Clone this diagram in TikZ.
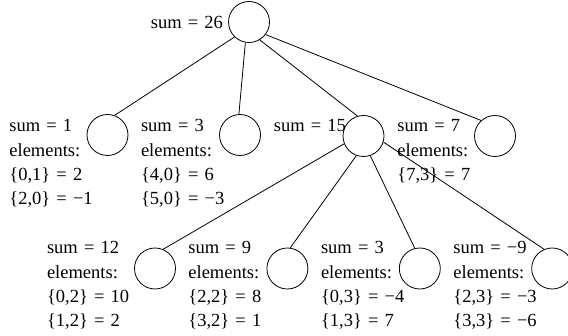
\documentclass[tikz,border=0pt]{standalone}
\usepackage{fontspec}
\setmainfont{Liberation Serif}
\begin{document}
\begin{tikzpicture}[x=1pt, y=-1pt, node distance=132.4pt, line width=0.8pt]
	\tikzstyle{sum} = [circle, draw, minimum size=41pt, inner sep=0pt]
	\tikzstyle{info} = [anchor=base west, inner sep=0pt, text width=100pt, align=left, font=\fontsize{18.5}{24.2}\selectfont]

	\useasboundingbox (0,0) rectangle (568,336);

	% Define nodes
	\node[sum] (R) at (249,22) {};
	\node[sum] (A) at (107.5,135) {};
	\node[sum] (B) at (240,135) {};
	\node[sum] (C) at (363.5,136) {};
	\node[sum] (D) at (495,136) {};
	\node[sum] (E) at (155,268.5) {};
	\node[sum] (F) [right of=E] {};
	\node[sum] (G) [right of=F] {};
	\node[sum] (H) [right of=G] {};

	% Sums and elements
	\node[info] (tR) at (150.5,28.5) {sum = 26};
	\node[info] (tA) at (9,132) {sum = 1\\elements:\\\{0,1\} = 2\\\{2,0\} = −1};
	\node[info] (tB) at (140.6,132) {sum = 3\\elements:\\\{4,0\} = 6\\\{5,0\} = −3};
	\node[info] (tC) at (273.5,132) {sum = 15};
	\node[info] (tD) at (397,132) {sum = 7\\elements:\\\{7,3\} = 7};
	\node[info] (tE) at (46.6,254) {sum = 12\\elements:\\\{0,2\} = 10\\\{1,2\} = 2};
	\node[info] (tF) at (188,254) {sum = 9\\elements:\\\{2,2\} = 8\\\{3,2\} = 1};
	\node[info] (tG) at (320.6,254) {sum = 3\\elements:\\\{0,3\} = −4\\\{1,3\} = 7};
	\node[info] (tH) at (453,254) {sum = −9\\elements:\\\{2,3\} = −3\\\{3,3\} = −6};

	% Draw edges
	\draw (R.226) -- (A.70);
	\draw (R.260) -- (B.93);
	\draw (R.-59) -- (C.107);
	\draw (R.-37) -- (D.132);
	\draw (C.202) -- (E.67);
	\draw (C.250) -- (F.82);
	\draw (C.-71) -- (G.104);
	\draw (C.-17) -- (H.113);

\end{tikzpicture}
\end{document}
